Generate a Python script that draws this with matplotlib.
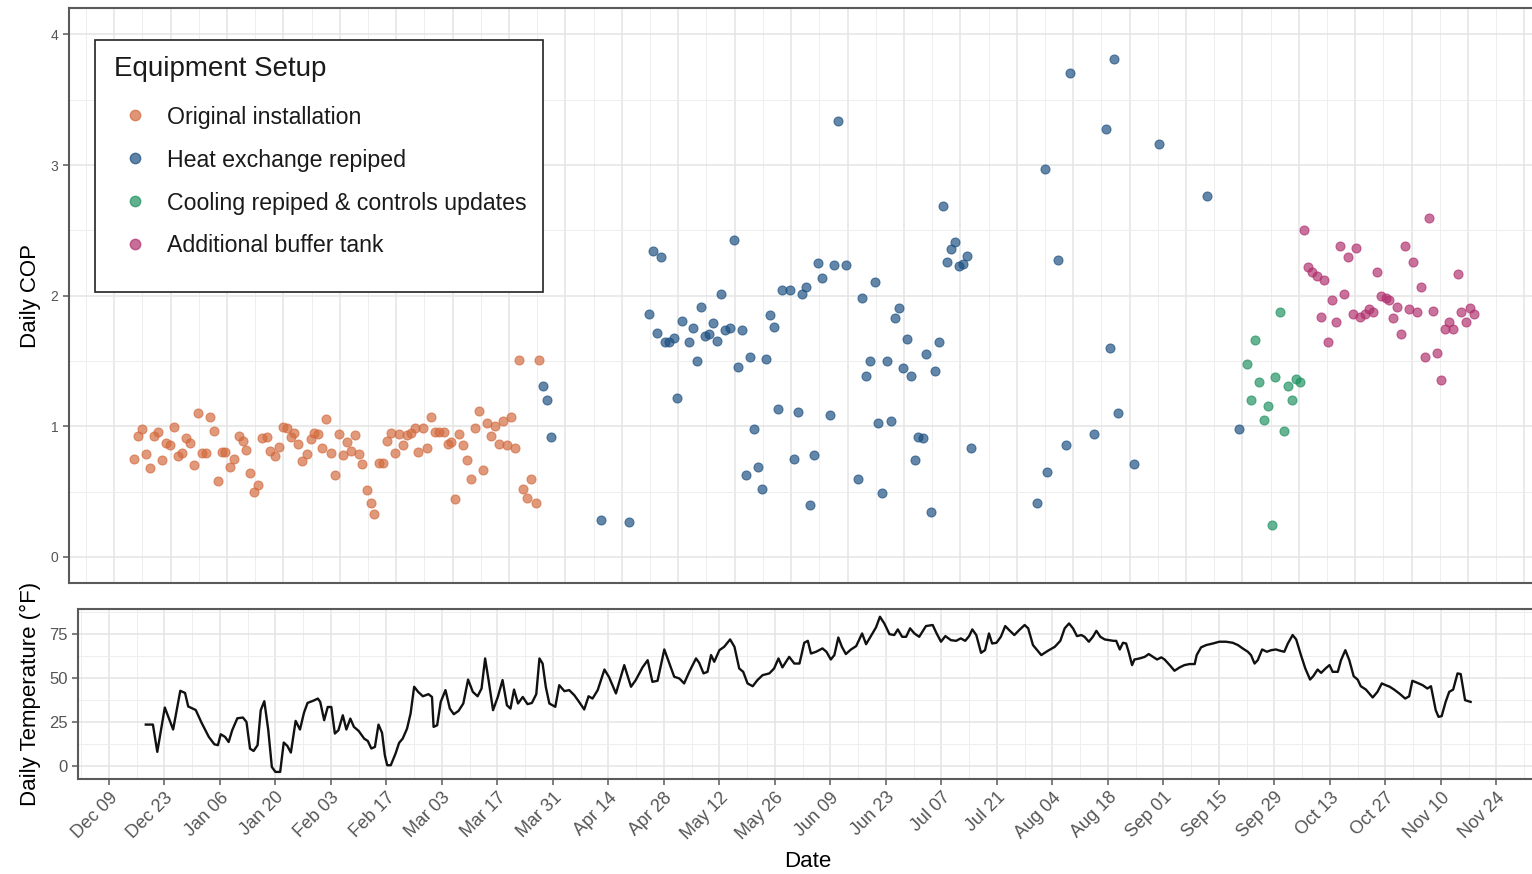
import matplotlib
matplotlib.use("Agg")
import matplotlib.pyplot as plt
import matplotlib.dates as mdates
from matplotlib.lines import Line2D
from matplotlib.patches import Rectangle
from matplotlib.ticker import FixedLocator, MultipleLocator
import numpy as np
import pandas as pd

plt.rcParams['font.family'] = ['Liberation Sans', 'DejaVu Sans']

# days counted from 2020-12-09
start = mdates.date2num(pd.Timestamp('2020-12-09'))

orig_day = [4.9, 5.8, 6.8, 7.8, 8.8, 9.9, 10.8, 11.9, 12.9, 13.8, 14.9, 15.9, 16.9, 17.9, 18.9,
            19.9, 20.8, 21.8, 22.9, 23.9, 24.9, 25.9, 26.8, 27.6, 28.8, 29.8, 30.9, 31.9, 32.8,
            33.8, 34.8, 35.8, 36.6, 37.9, 38.8, 39.9, 40.9, 41.9, 42.8, 43.8, 44.7, 45.7, 46.7,
            47.8, 48.8, 49.7, 50.6, 51.7, 52.7, 53.8, 54.8, 55.8, 56.8, 57.8, 58.7, 59.7, 60.7,
            61.6, 62.7, 63.7, 64.6, 65.7, 66.7, 67.6, 68.6, 69.6, 70.6, 71.6, 72.7, 73.7, 74.7,
            75.5, 76.7, 77.7, 78.6, 79.6, 80.7, 81.9, 82.8, 83.7, 84.6, 85.6, 86.6, 87.5, 88.5,
            89.5, 90.6, 91.5, 92.5, 93.5, 94.5, 95.5, 96.5, 97.6, 98.6, 99.6, 100.5, 101.5,
            102.5, 103.5, 104.6, 105.4]
orig_cop = [0.746, 0.924, 0.982, 0.789, 0.677, 0.924, 0.957, 0.743, 0.873, 0.855, 0.995, 0.771,
            0.796, 0.911, 0.873, 0.702, 1.102, 0.796, 0.796, 1.074, 0.964, 0.58, 0.804, 0.804,
            0.687, 0.751, 0.924, 0.885, 0.822, 0.644, 0.499, 0.55, 0.911, 0.919, 0.814, 0.771,
            0.84, 0.992, 0.987, 0.916, 0.949, 0.865, 0.733, 0.784, 0.903, 0.949, 0.941, 0.835,
            1.053, 0.796, 0.626, 0.941, 0.779, 0.88, 0.809, 0.931, 0.789, 0.712, 0.509, 0.415,
            0.326, 0.718, 0.718, 0.885, 0.947, 0.796, 0.941, 0.86, 0.931, 0.949, 0.987, 0.804,
            0.987, 0.835, 1.069, 0.954, 0.954, 0.954, 0.865, 0.88, 0.44, 0.941, 0.855, 0.738,
            0.593, 0.987, 1.115, 0.662, 1.025, 0.924, 1.0, 0.865, 1.043, 0.855, 1.074, 0.83,
            1.504, 0.517, 0.453, 0.598, 0.415, 1.509]

heat_day = [106.5, 107.5, 108.5, 120.7, 127.7, 132.7, 133.8, 134.7, 135.8, 136.8, 137.6, 138.9,
            139.8, 140.8, 142.7, 143.7, 144.7, 145.7, 146.6, 147.6, 148.6, 149.7, 150.7, 151.5,
            152.8, 153.8, 154.7, 155.7, 156.7, 157.7, 158.7, 159.7, 160.7, 161.7, 162.7, 163.8,
            164.8, 165.8, 167.7, 168.7, 169.7, 170.7, 171.8, 172.8, 173.7, 174.7, 175.7, 177.7,
            178.7, 179.6, 181.7, 184.6, 185.6, 186.7, 187.7, 188.7, 189.6, 190.6, 191.7, 192.7,
            193.7, 194.7, 195.8, 196.7, 197.7, 198.7, 199.5, 200.7, 201.6, 202.6, 203.6, 204.7,
            205.7, 206.7, 207.6, 208.6, 209.7, 210.7, 211.7, 212.7, 229.0, 231.0, 231.6, 234.2,
            236.1, 237.2, 243.2, 246.2, 247.1, 248.2, 249.1, 253.2, 259.3, 271.3, 279.2]
heat_cop = [1.305, 1.198, 0.916, 0.285, 0.265, 1.86, 2.343, 1.712, 2.297, 1.643, 1.648, 1.676,
            1.215, 1.809, 1.648, 1.75, 1.498, 1.916, 1.694, 1.707, 1.789, 1.656, 2.01, 1.74,
            1.753, 2.426, 1.452, 1.738, 0.629, 1.529, 0.976, 0.69, 0.517, 1.516, 1.855, 1.758,
            1.129, 2.04, 2.045, 0.752, 1.108, 2.01, 2.07, 0.395, 0.777, 2.249, 2.132, 1.083,
            2.236, 3.34, 2.236, 0.599, 1.98, 1.381, 1.496, 2.107, 1.024, 0.492, 1.496, 1.037,
            1.827, 1.903, 1.445, 1.669, 1.383, 0.739, 0.917, 0.91, 1.554, 0.344, 1.424, 1.648,
            2.685, 2.259, 2.36, 2.411, 2.228, 2.241, 2.3, 0.833, 0.415, 2.97, 0.65, 2.274,
            0.856, 3.708, 0.944, 3.277, 1.603, 3.81, 1.104, 0.714, 3.162, 2.764, 0.977]

cool_day = [281.2, 282.2, 283.2, 284.2, 285.3, 286.3, 287.3, 288.2, 289.3, 290.3, 291.3, 292.3,
            293.3, 294.4]
cool_cop = [1.478, 1.2, 1.661, 1.337, 1.048, 1.154, 0.243, 1.38, 1.876, 0.962, 1.311, 1.2,
            1.362, 1.342]

buffer_day = [295.2, 296.3, 297.3, 298.4, 299.4, 300.2, 301.3, 302.3, 303.3, 304.2, 305.2,
              306.3, 307.4, 308.3, 309.3, 310.4, 311.4, 312.4, 313.3, 314.3, 315.6, 316.4,
              317.4, 318.3, 319.3, 320.4, 321.4, 322.4, 323.3, 324.3, 325.3, 326.3, 327.4,
              328.4, 329.4, 330.3, 331.3, 332.3, 333.4, 334.3, 335.5, 336.4, 337.4]
buffer_cop = [2.5, 2.216, 2.178, 2.152, 1.838, 2.119, 1.648, 1.97, 1.8, 2.381, 2.015, 2.294,
              1.861, 2.365, 1.835, 1.861, 1.899, 1.876, 2.183, 1.995, 1.98, 1.97, 1.83, 1.914,
              1.709, 2.381, 1.899, 2.254, 1.876, 2.066, 1.532, 2.591, 1.881, 1.559, 1.357,
              1.742, 1.797, 1.742, 2.165, 1.876, 1.8, 1.906, 1.861]

temp_day = [9.3, 11.1, 12.2, 14.1, 16.2, 18.0, 19.2, 20.0, 21.9, 23.4, 25.2, 26.6, 27.5, 28.2,
            29.3, 30.2, 31.1, 32.4, 33.8, 34.7, 35.6, 36.5, 37.5, 38.3, 39.2, 40.2, 41.1, 42.0,
            43.2, 44.1, 45.0, 45.9, 47.1, 48.2, 49.2, 50.1, 51.8, 52.7, 53.3, 54.3, 55.2, 56.1,
            57.0, 57.9, 59.0, 59.9, 60.9, 61.8, 63.0, 64.4, 65.3, 66.2, 67.1, 68.0, 68.9, 69.6,
            70.2, 71.1, 72.3, 73.2, 74.1, 75.2, 76.1, 77.0, 78.0, 79.2, 80.6, 81.5, 81.9, 82.8,
            83.7, 84.9, 86.0, 87.0, 88.2, 89.4, 90.6, 91.8, 93.0, 94.0, 94.9, 95.8, 96.9, 98.1,
            99.3, 100.4, 101.3, 102.2, 103.2, 104.4, 105.6, 106.7, 107.8,
            108.6, 109.4, 110.2, 111.1, 112.6, 113.6, 114.9, 116.1, 117.4, 118.6, 119.9, 121.0,
            122.0, 123.3, 125.0, 126.2, 127.9, 130.0, 131.7, 132.9, 134.6, 135.9, 137.1, 138.4,
            140.1, 141.4, 142.6, 143.9, 145.1, 146.4, 148.1, 148.9, 150.0, 151.0, 151.9, 152.7,
            154.0, 155.2, 156.7, 157.8, 159.0, 160.0, 161.1, 162.4, 163.6, 164.9, 166.6, 167.8,
            168.9, 169.9, 171.6, 172.9, 174.2, 175.4, 176.3, 177.1, 178.4, 180.0, 181.0, 182.1,
            183.0, 184.0, 184.9, 185.9, 187.2, 188.5, 190.0, 191.0, 192.2, 193.5, 194.5, 195.6,
            196.9, 198.1, 199.0, 200.1, 201.1, 202.1, 203.2, 204.4, 206.1, 207.8, 208.8, 209.9,
            211.0, 212.4, 213.7, 214.9, 216.0, 217.0, 217.8, 218.8, 220.0, 221.0, 222.0, 222.8,
            223.9, 225.0, 226.1, 227.1, 228.4,
            229.8, 231.0, 231.9, 233.1, 235.2, 236.9, 238.6, 240.0, 241.1, 242.2, 243.2, 244.2,
            245.3, 246.1, 247.2, 248.2, 249.1, 250.1, 251.2, 252.3, 253.4, 254.1, 255.0, 255.8,
            256.6, 257.3, 258.1, 258.7, 260.0, 261.3, 262.3, 263.4, 264.4, 265.5, 266.3, 267.6,
            268.8, 270.1, 271.3, 272.6, 273.9, 274.4, 275.5, 276.8, 278.5, 280.1, 281.8, 283.5,
            284.8, 286.0, 287.3, 288.1, 289.0, 289.8, 290.9, 292.1, 293.2, 294.4, 295.4, 296.5,
            297.4, 298.6, 299.5, 300.7, 301.8, 303.0, 303.8, 304.9, 305.8, 306.9, 307.9, 308.7,
            310.0, 310.8, 311.9, 312.9, 314.0, 315.0, 315.8, 317.1, 318.8, 320.0, 321.1, 322.1,
            323.1, 324.2, 325.5, 327.0, 328.0, 328.8, 330.1, 331.4, 332.6, 333.5, 334.7, 335.4,
            336.2, 337.2, 338.1, 339.1, 340.2, 341.0, 342.1, 343.5]
temp_f = [23.7, 23.7, 8.2, 33.4, 20.9, 42.9, 41.7, 34.0, 32.0, 24.6, 16.7, 12.5, 12.0, 18.2,
          16.7, 13.8, 20.5, 27.3, 27.7, 25.2, 10.0, 8.7, 12.0, 31.9, 37.0, 20.5, -0.4, -3.2,
          -3.2, 13.5, 11.6, 7.8, 25.8, 20.9, 30.4, 36.0, 37.5, 38.5, 36.6, 26.2, 33.7, 33.7,
          18.6, 20.5, 29.0, 20.9, 27.1, 22.4, 20.1, 15.7, 14.4, 10.1, 11.0, 23.7, 19.0, 6.3,
          0.6, 0.6, 7.2, 13.3, 15.7, 21.4, 30.0, 45.2, 42.3, 39.8, 41.0, 39.4, 22.4, 23.3,
          36.6, 43.3, 32.8, 29.6, 31.5, 35.7, 49.3, 42.3, 39.8, 44.2, 61.3, 48.5, 31.9, 39.4,
          49.0, 34.7, 32.8, 43.6, 35.7, 39.4, 35.3, 36.0, 41.0,
          61.3, 58.4, 45.2, 35.7, 33.8, 46.1, 42.7, 43.3, 40.4, 36.6, 32.3, 39.8,
          38.5, 43.3, 55.0, 50.5, 41.4, 57.5, 45.2, 49.0, 56.2, 60.3, 48.0, 48.6,
          66.4, 58.4, 50.9, 49.9, 47.1, 53.7, 61.3, 58.8, 52.8, 53.7, 63.2, 59.4,
          66.0, 67.9, 72.1, 67.9, 55.6, 53.7, 47.1, 45.5, 49.0, 51.8, 52.8, 55.6,
          61.3, 56.2, 62.2, 58.4, 58.4, 70.2, 71.3, 64.1, 65.1, 67.0, 65.1, 60.7,
          63.2, 73.2, 67.9, 63.8, 66.4, 68.3, 75.5, 69.4, 74.0, 78.9, 85.0, 81.2,
          75.1, 74.6, 77.8, 73.6, 73.6, 78.4, 75.5, 73.6, 79.7, 80.3, 75.5, 70.8,
          74.0, 71.7, 71.3, 72.7, 71.3, 74.0, 77.8, 74.6, 64.5, 66.0, 75.5, 69.8,
          70.2, 73.6, 79.7, 77.4, 74.6,
          77.8, 80.3, 78.4, 68.9, 63.2, 65.7, 67.9, 71.3, 78.4, 81.2, 78.4, 74.0,
          74.6, 73.6, 70.8, 73.6, 77.0, 73.6, 72.1, 71.7, 71.3, 71.3, 66.4, 70.2,
          69.8, 64.5, 57.5, 60.7, 61.3, 62.2, 63.8, 62.2, 60.7, 61.9, 60.7, 57.5,
          54.3, 56.2, 57.5, 58.1, 58.1, 63.2, 67.6, 68.9, 69.8, 70.8, 70.8, 70.2,
          68.9, 67.0, 65.1, 63.2, 58.4, 60.3, 66.4, 65.1, 66.0, 66.4, 65.7, 65.1,
          69.8, 74.6, 72.1, 63.2, 55.6, 49.3, 51.2, 55.0, 53.1, 55.6, 57.5, 53.7,
          53.7, 60.3, 66.0, 60.3, 51.2, 49.3, 45.5, 43.6, 39.1, 42.3, 47.1, 46.1,
          45.2, 43.6, 41.4, 38.5, 39.8, 48.6, 47.4, 46.1, 44.2, 45.5, 31.9, 28.1,
          28.5, 36.6, 42.3, 43.6, 52.8, 52.4, 37.6, 36.6]

groups = ['Original installation', 'Heat exchange repiped',
          'Cooling repiped & controls updates', 'Additional buffer tank']
colors = ['#D2693C', '#1B4F80', '#1E9160', '#B0306E']

tick_dates = pd.date_range('2020-12-09', '2021-11-24', freq='14D')
minor_dates = pd.date_range('2020-12-02', '2021-12-01', freq='7D')

W, H = 1532, 874
fig = plt.figure(figsize=(W / 100, H / 100), dpi=100)
ax1 = fig.add_axes([69 / W, 1 - 583 / H, 1470 / W, 574.7 / H])
ax2 = fig.add_axes([78 / W, 1 - 779.3 / H, 1460 / W, 170.3 / H])


def style(ax):
    ax.set_axisbelow(True)
    ax.xaxis.set_major_locator(FixedLocator(mdates.date2num(tick_dates)))
    ax.xaxis.set_minor_locator(FixedLocator(mdates.date2num(minor_dates)))
    ax.grid(which='major', color='#E4E4E4', lw=1.1)
    ax.grid(which='minor', color='#EEEEEE', lw=0.7)
    for s in ax.spines.values():
        s.set_color('#5A5A5A')
        s.set_linewidth(1.5)
    ax.tick_params(which='major', length=4, width=1.1, color='#5A5A5A', labelcolor='#555555')
    ax.tick_params(which='minor', length=0)


# top panel: daily COP
style(ax1)
for d, v, c, lab in zip([orig_day, heat_day, cool_day, buffer_day],
                        [orig_cop, heat_cop, cool_cop, buffer_cop], colors, groups):
    ax1.scatter(start + np.array(d), v, s=42, color=c, alpha=0.68,
                edgecolors=c, linewidths=0.8, label=lab, zorder=3)
ax1.set_xlim(start - 11.2, start + 353.6)
ax1.set_ylim(-0.2, 4.2)
ax1.yaxis.set_major_locator(MultipleLocator(1))
ax1.yaxis.set_minor_locator(MultipleLocator(0.5))
ax1.tick_params(axis='x', which='both', length=0, labelbottom=False)
ax1.tick_params(axis='y', labelsize=10)
ax1.set_ylabel('Daily COP', fontsize=16)
ax1.yaxis.set_label_coords(-0.019, 0.5)

# bottom panel: daily temperature
style(ax2)
ax2.plot(start + np.array(temp_day), temp_f, color='#111111', lw=1.7)
ax2.set_xlim(start - 7.8, start + 360.5)
ax2.set_ylim(-7.4, 89.4)
ax2.yaxis.set_major_locator(MultipleLocator(25))
ax2.yaxis.set_minor_locator(MultipleLocator(12.5))
ax2.xaxis.set_major_formatter(mdates.DateFormatter('%b %d'))
ax2.tick_params(axis='y', labelsize=12)
ax2.tick_params(axis='x', labelsize=13, pad=3)
for lbl in ax2.get_xticklabels():
    lbl.set_rotation(45)
    lbl.set_ha('right')
    lbl.set_va('top')
    lbl.set_rotation_mode('anchor')
ax2.set_ylabel('Daily Temperature (°F)', fontsize=16)
ax2.yaxis.set_label_coords(-0.0254, 0.5)
ax2.set_xlabel('Date', fontsize=16)
ax2.xaxis.set_label_coords(0.5, -0.42)

# legend with its own box
box = Rectangle((95 / W, 1 - 292 / H), 448 / W, 252 / H, transform=fig.transFigure,
                facecolor='white', edgecolor='#222222', lw=1.2, zorder=2)
fig.add_artist(box)
handles = [Line2D([], [], marker='o', ls='', ms=7.5, color=c, alpha=0.7) for c in colors]
leg = fig.legend(handles, groups, loc='upper left', bbox_to_anchor=(114 / W, 1 - 56 / H),
                 bbox_transform=fig.transFigure, frameon=False, borderpad=0, borderaxespad=0,
                 fontsize=16.7, title='Equipment Setup', title_fontsize=20,
                 alignment='left', handlelength=1.85, handletextpad=0.45, labelspacing=0.86)
leg._legend_box.sep = 17
for t in leg.get_texts():
    t.set_color('#1A1A1A')
leg.get_title().set_color('#1A1A1A')
leg.set_zorder(3)

fig.savefig('out.png', dpi=100)
